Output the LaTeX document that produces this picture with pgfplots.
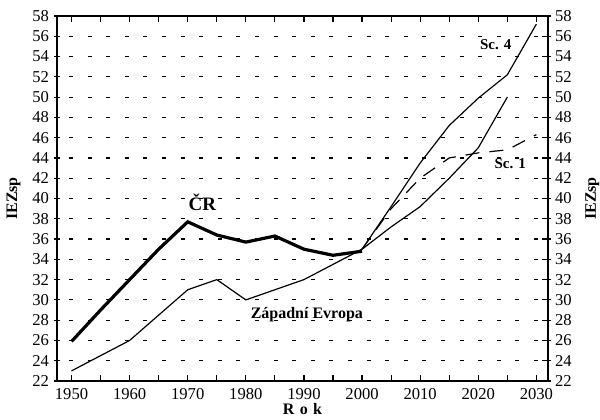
\documentclass[border=0pt]{standalone}
\usepackage{pgfplots}
\pgfplotsset{compat=1.18}
\usepackage{fontspec}
\setmainfont{Liberation Serif}
\begin{document}
\begin{tikzpicture}
\pgfplotsset{
  common/.style={
    scale only axis, width=245.5pt, height=182.5pt,
    xmin=1947.5, xmax=2032, ymin=22, ymax=58,
    ytick={22,24,...,58},
    /pgf/number format/assume math mode=true,
    /pgf/number format/1000 sep={},
    tick label style={font=\fontsize{8.3}{9}\selectfont},
    label style={font=\fontsize{8}{9}\selectfont\bfseries},
    tick style={black, line width=0.6pt},
    major tick length=3pt,
  }
}
\begin{axis}[common,
  axis line style={line width=1pt},
  xtick={1950,1960,...,2030},
  minor xtick={1955,1965,...,2025},
  minor tick length=3pt,
  xtick align=inside,
  ytick align=center,
  ymajorgrids,
  grid style={black, line width=0.6pt, dash pattern=on 2pt off 7.3pt, dash phase=-6pt},
  ylabel={IEZsp},
  xlabel={R\,\,o\,\,k},
  xlabel style={yshift=5pt},
  ylabel style={yshift=-1pt},
  yticklabel style={xshift=1pt},
]
\addplot[black, line width=1.6pt] coordinates {
 (1950,25.9) (1955,29) (1960,32) (1965,35) (1970,37.7) (1975,36.4) (1980,35.7) (1985,36.3) (1990,35) (1995,34.4) (2000,34.8)};
\addplot[black, line width=0.6pt] coordinates {
 (1950,23) (1960,26) (1965,28.5) (1970,31) (1975,32) (1980,30) (1985,31) (1990,32) (1995,33.5) (2000,35) (2005,37.2) (2010,39.2) (2015,42) (2020,45) (2025,50)};
\addplot[black, line width=0.6pt] coordinates {
 (2000,35) (2005,39.2) (2010,43.5) (2015,47.2) (2020,49.9) (2025,52.2) (2030,57.2)};
\addplot[black, line width=0.6pt, dash pattern=on 7pt off 5pt] coordinates {
 (2000,35) (2005,39) (2010,42) (2015,44) (2020,44.5) (2025,44.8) (2030,46.3)};
\node[font=\fontsize{9.5}{10}\selectfont\bfseries] at (axis cs:1972.5,39.6) {ČR};
\node[font=\fontsize{8}{9}\selectfont\bfseries] at (axis cs:1990.5,28.5) {Západní Evropa};
\node[font=\fontsize{7.5}{8}\selectfont\bfseries] at (axis cs:2023,55.2) {Sc. 4};
\node[font=\fontsize{7.5}{8}\selectfont\bfseries] at (axis cs:2025.5,43.4) {Sc. 1};
\end{axis}
\begin{axis}[common,
  axis x line=none,
  axis y line*=right,
  axis line style={line width=1pt},
  ytick align=inside,
  ylabel={IEZsp},
]
\addplot[draw=none] coordinates {(1950,30)};
\end{axis}
\pgfresetboundingbox
\path (-28.5pt,-19pt) rectangle (271.5pt,190.5pt);
\end{tikzpicture}
\end{document}
